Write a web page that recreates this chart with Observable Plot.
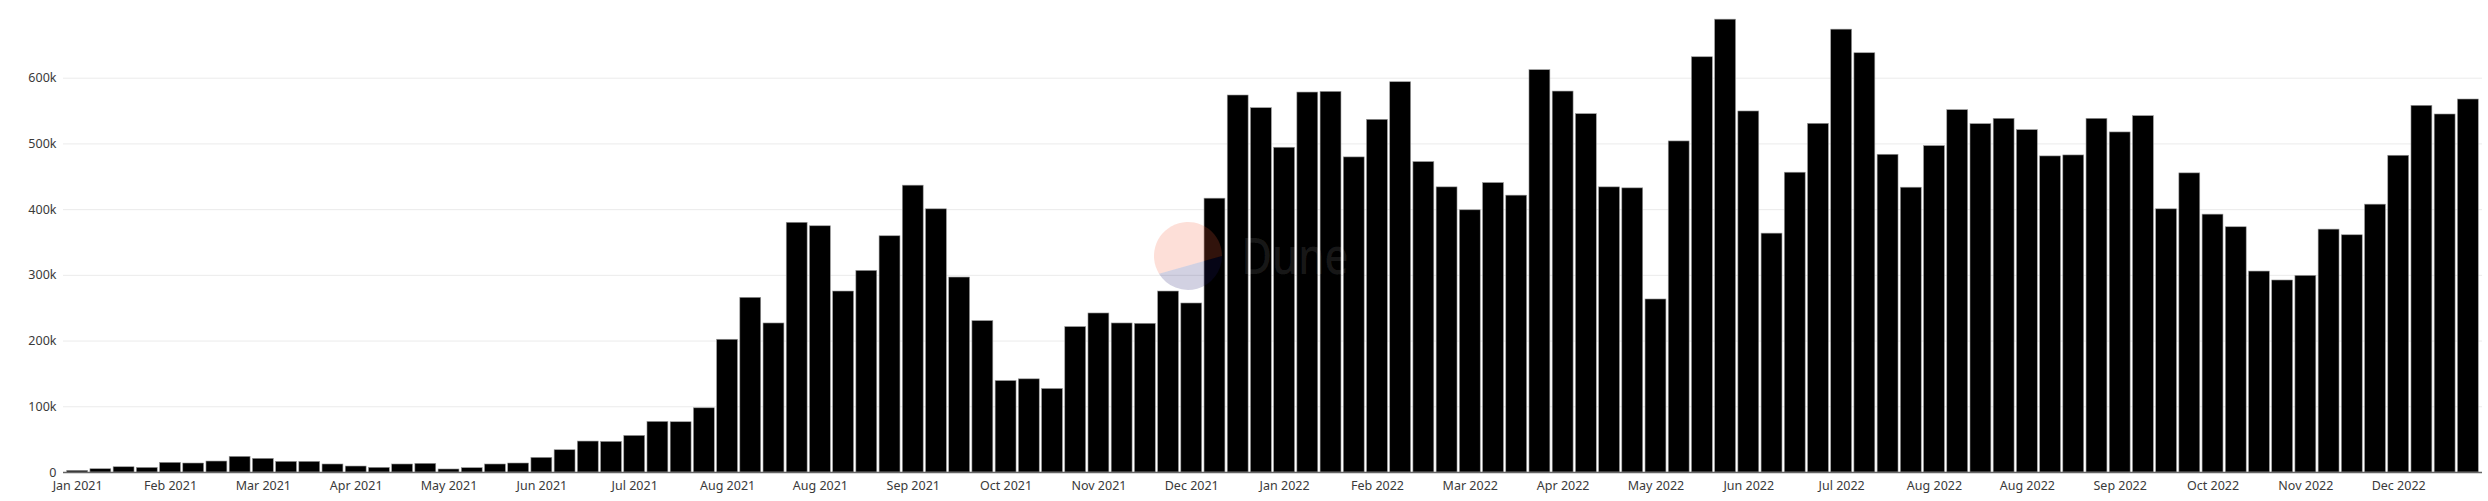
<!DOCTYPE html>
<html>
<head>
<meta charset="utf-8">
<script src="https://cdn.jsdelivr.net/npm/d3@7"></script>
<script src="https://cdn.jsdelivr.net/npm/@observablehq/plot@0.6"></script>
<style>
  body { margin: 0; background: #fff; }
  #wrap { position: relative; width: 2488px; height: 501px; }
  #wm { position: absolute; left: 0; top: 0; pointer-events: none; }
</style>
</head>
<body>
<div id="wrap"></div>
<script>
// Weekly values (thousands), weeks starting Monday 2021-01-18
const firstWeek = "2021-01-18";
const values = [
  2.5, 5, 8, 7, 14.7, 13.7, 16.7, 23.8, 20.8, 16.2,
  16.2, 12.2, 9.1, 7.1, 12.2, 13.2, 4.6, 6.6, 12.2, 13.7,
  22.3, 33.9, 47.1, 46.6, 55.7, 77, 76.5, 97.7, 202, 265.8,
  226.8, 380, 374.7, 275.4, 306.8, 359.5, 436.5, 400.5, 296.7, 230.4,
  139.2, 141.8, 127.1, 221.3, 242, 226.8, 226.3, 275.4, 257.2, 416.7,
  573.7, 554.4, 494.2, 578.2, 579.2, 479.5, 536.7, 593.9, 472.4, 433.9,
  399, 440.5, 421.3, 612.2, 579.7, 545.3, 433.9, 432.4, 263.3, 503.8,
  631.9, 689.1, 549.4, 363.5, 456.2, 530.6, 673.9, 638, 483.5, 433.4,
  496.7, 551.4, 530.1, 538.2, 521, 481, 482.5, 538.2, 517.5, 542.3,
  400.5, 455.2, 392.4, 373.2, 305.8, 292.2, 299.2, 369.6, 361, 407.6,
  482, 558, 544.8, 567.6
];
// one label every 4 weeks
const tickLabels = [
  "Jan 2021", "Feb 2021", "Mar 2021", "Apr 2021", "May 2021", "Jun 2021",
  "Jul 2021", "Aug 2021", "Aug 2021", "Sep 2021", "Oct 2021", "Nov 2021",
  "Dec 2021", "Jan 2022", "Feb 2022", "Mar 2022", "Apr 2022", "May 2022",
  "Jun 2022", "Jul 2022", "Aug 2022", "Aug 2022", "Sep 2022", "Oct 2022",
  "Nov 2022", "Dec 2022"
];
const yTicks = [0, 100000, 200000, 300000, 400000, 500000, 600000];
const yTickLabels = ["0", "100k", "200k", "300k", "400k", "500k", "600k"];

const start = new Date(firstWeek + "T00:00:00Z");
const data = values.map((v, i) => ({ week: d3.utcMonday.offset(start, i), value: v * 1000 }));
const weeks = data.map(d => d.week);
const tickWeeks = tickLabels.map((_, k) => weeks[k * 4]);
const labelMap = new Map(tickWeeks.map((w, k) => [+w, tickLabels[k]]));

const chart = Plot.plot({
  width: 2488,
  height: 501,
  marginTop: 12,
  marginBottom: 29,
  marginLeft: 63,
  marginRight: 6,
  style: { fontFamily: "'Noto Sans', 'Open Sans', sans-serif", fontSize: "12.5px", color: "#3a3a3a", background: "transparent" },
  x: {
    type: "band",
    domain: weeks,
    paddingInner: 0.1,
    paddingOuter: 0.16,
    align: 0.5,
    round: false,
    label: null
  },
  y: { domain: [0, 700000], label: null },
  marks: [
    Plot.gridY(yTicks, { stroke: "#ebebeb", strokeOpacity: 1 }),
    Plot.barY(data, { x: "week", y: "value", fill: "#000", stroke: "#9a9a9a", strokeWidth: 0.6 }),
    Plot.ruleY([0], { stroke: "#666", strokeWidth: 1.5 }),
    Plot.axisX({ ticks: tickWeeks, tickFormat: d => labelMap.get(+d), tickSize: 0, tickPadding: 9, fill: "#3a3a3a" }),
    Plot.axisY({ ticks: yTicks, tickFormat: d => yTickLabels[yTicks.indexOf(d)], tickSize: 0, tickPadding: 7, fill: "#3a3a3a" })
  ]
});
document.getElementById("wrap").appendChild(chart);

// Watermark overlay (decorative)
const ns = "http://www.w3.org/2000/svg";
const wm = document.createElementNS(ns, "svg");
wm.setAttribute("id", "wm");
wm.setAttribute("width", 2488);
wm.setAttribute("height", 501);
wm.innerHTML = `
  <path d="M 1222 256 A 34 34 0 1 0 1159 273.7 Z" fill="#F4603E" fill-opacity="0.2"/>
  <path d="M 1222 256 A 34 34 0 0 1 1159 273.7 Z" fill="#1E1870" fill-opacity="0.2"/>
  <text x="1241.5" y="273.5" font-family="'Noto Sans', sans-serif" font-size="50" font-weight="500" fill="#ffffff" fill-opacity="0.1" textLength="107" lengthAdjust="spacingAndGlyphs">Dune</text>
`;
document.getElementById("wrap").appendChild(wm);
</script>
</body>
</html>
